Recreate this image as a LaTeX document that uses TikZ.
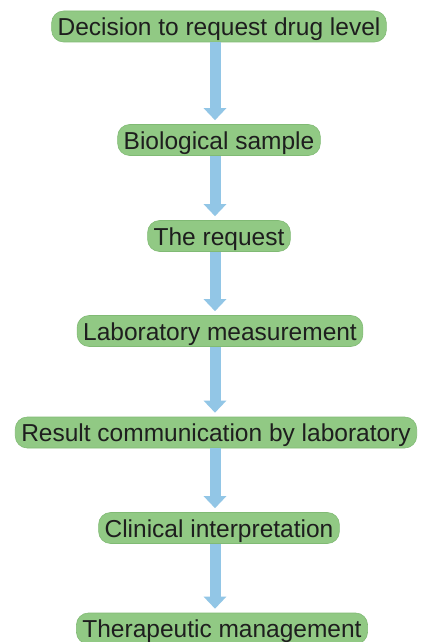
\documentclass[tikz,border=0pt]{standalone}
\usepackage{fontspec}
\setmainfont{Liberation Sans}
\usetikzlibrary{arrows.meta}
\definecolor{boxgreen}{RGB}{145,201,132}
\definecolor{boxedge}{RGB}{128,186,116}
\definecolor{arrowblue}{RGB}{146,198,230}
\definecolor{textdark}{RGB}{30,30,30}
\begin{document}
\begin{tikzpicture}[x=1pt,y=1pt,
  stepbox/.style={fill=boxgreen, draw=boxedge, line width=0.6pt, rounded corners=12pt,
    font=\fontsize{24.5}{26}\selectfont, text=textdark,
    inner xsep=6pt, inner ysep=0pt, minimum height=31pt,
    text height=22pt, text depth=4pt},
  flow/.style={draw=arrowblue, line width=11pt,
    -{Triangle[width=22pt 0, length=12pt 0]}, shorten >=4pt}]
\fill[white] (0,0) rectangle (427,-642);
\useasboundingbox (0,0) rectangle (427,-642);
\node[stepbox] (n1) at (219,-26.5) {Decision to request drug level};
\node[stepbox] (n2) at (219,-140) {Biological sample};
\node[stepbox] (n3) at (219,-236) {The request};
\node[stepbox] (n4) at (220,-331) {Laboratory measurement};
\node[stepbox] (n5) at (216,-432.5) {Result communication by laboratory};
\node[stepbox] (n6) at (219,-528) {Clinical interpretation};
\node[stepbox] (n7) at (222,-628.5) {Therapeutic management};
\foreach \a/\b in {n1/n2,n2/n3,n3/n4,n4/n5,n5/n6,n6/n7}{
  \draw[flow] ([xshift=-2pt]\a.south -| 217,0) -- ([xshift=-2pt]\b.north -| 217,0);
}
\end{tikzpicture}
\end{document}
